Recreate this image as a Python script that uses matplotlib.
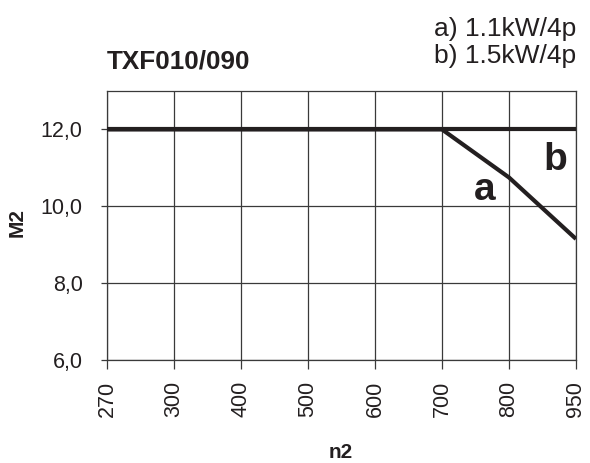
import matplotlib
matplotlib.use("Agg")
import matplotlib.pyplot as plt

n2_labels = ["270", "300", "400", "500", "600", "700", "800", "950"]
m2_a = [12.0, 12.0, 12.0, 12.0, 12.0, 12.0, 10.75, 9.15]
m2_b = [12.0, 12.0, 12.0, 12.0, 12.0, 12.0, 12.0, 12.0]
y_ticks = [6.0, 8.0, 10.0, 12.0]
y_tick_labels = ["6,0", "8,0", "10,0", "12,0"]

plt.rcParams['font.family'] = ['Liberation Sans', 'DejaVu Sans']

W, H = 590, 463
fig = plt.figure(figsize=(W/100, H/100), dpi=100)
ax = fig.add_axes([107/W, 1-360/H, (576-107)/W, (360-91)/H])

x = list(range(len(n2_labels)))
ink = "#231f20"
ax.plot(x, m2_b, color=ink, lw=3.0, solid_capstyle="butt", zorder=3)
ax.plot(x, m2_a, color=ink, lw=3.0, solid_capstyle="butt", zorder=3)

ax.set_xlim(0, len(n2_labels)-1)
ax.set_ylim(6, 13)
ax.set_xticks(x)
ax.set_xticklabels(n2_labels, rotation=90, fontsize=15.5, color=ink)
ax.set_yticks(y_ticks)
ax.set_yticklabels(y_tick_labels, fontsize=15.5, color=ink)
ax.grid(True, color="#3a3a3a", lw=0.9)
ax.set_axisbelow(True)
for s in ax.spines.values():
    s.set_color("#3a3a3a")
    s.set_linewidth(0.9)
ax.tick_params(axis="y", direction="out", length=4.5, width=0.9, color="#3a3a3a", pad=13)
ax.tick_params(axis="x", direction="out", length=6.5, width=0.9, color="#3a3a3a", pad=8.5)

fig.text(341/W, 1-452/H, "n2", fontsize=15, fontweight="bold", ha="center", va="center", color=ink)
fig.text(16.7/W, 1-222.5/H, "M2", fontsize=15, fontweight="bold", ha="center", va="center", rotation=90, color=ink)

ax.text(5.63, 10.17, "a", fontsize=28, fontweight="bold", ha="center", va="baseline", color=ink)
ax.text(6.69, 10.94, "b", fontsize=28, fontweight="bold", ha="center", va="baseline", color=ink)

fig.text(107/W, 1-68.3/H, "TXF010/090", fontsize=18.8, fontweight="bold", ha="left", va="baseline", color=ink)
fig.text(576/W, 1-36/H, "a) 1.1kW/4p", fontsize=19, ha="right", va="baseline", color=ink)
fig.text(576/W, 1-63.5/H, "b) 1.5kW/4p", fontsize=19, ha="right", va="baseline", color=ink)

fig.savefig("out.png", dpi=100)
